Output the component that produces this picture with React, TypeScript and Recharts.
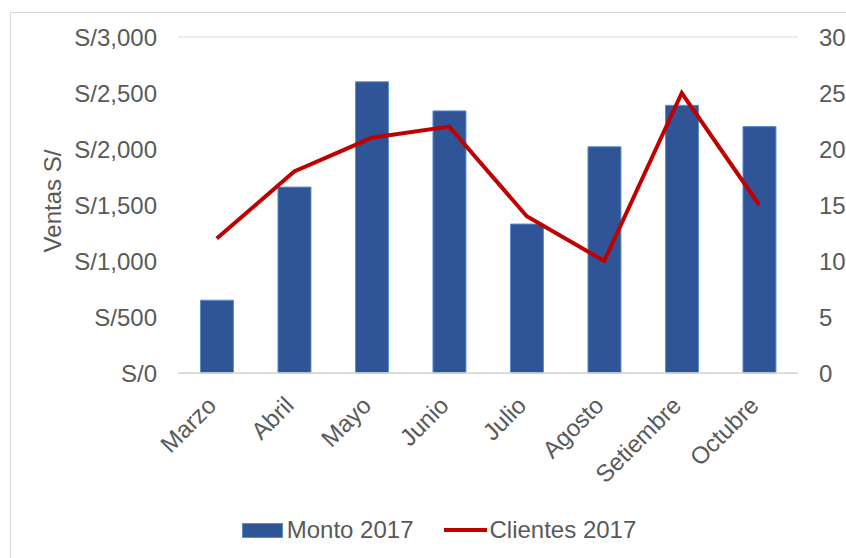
import {
  ComposedChart,
  Bar,
  Line,
  XAxis,
  YAxis,
  CartesianGrid,
  Legend,
  Label,
} from 'recharts'

const months = ['Marzo', 'Abril', 'Mayo', 'Junio', 'Julio', 'Agosto', 'Setiembre', 'Octubre']
const monto2017 = [650, 1660, 2600, 2340, 1330, 2020, 2390, 2200]
const clientes2017 = [12, 18, 21, 22, 14, 10, 25, 15]
const leftTicks = [0, 500, 1000, 1500, 2000, 2500, 3000]
const rightTicks = [0, 5, 10, 15, 20, 25, 30]

const data = months.map((m, i) => ({
  month: m,
  monto: monto2017[i],
  clientes: clientes2017[i],
}))

const FONT = '"Liberation Sans", Arial, sans-serif'
const TEXT = '#595959'
const BLUE = '#2f5597'
const RED = '#c00000'

const fmtSoles = (v: number) => `S/${v.toLocaleString('en-US')}`

function MonthTick(props: any) {
  const { x, y, payload } = props
  return (
    <g transform={`translate(${x},${y})`}>
      <text
        x={0}
        y={0}
        textAnchor="end"
        transform="translate(1,34) rotate(-45)"
        fill={TEXT}
        fontSize={24}
        fontFamily={FONT}
      >
        {payload.value}
      </text>
    </g>
  )
}

function ChartLegend() {
  return (
    <div
      style={{
        display: 'flex',
        justifyContent: 'center',
        alignItems: 'center',
        fontFamily: FONT,
        fontSize: 24,
        color: TEXT,
        paddingLeft: 32,
      }}
    >
      <span style={{ display: 'flex', alignItems: 'center', marginRight: 30 }}>
        <span
          style={{
            width: 39,
            height: 13,
            background: BLUE,
            border: '1px solid #5b8fd4',
            marginRight: 4,
          }}
        />
        Monto 2017
      </span>
      <span style={{ display: 'flex', alignItems: 'center' }}>
        <span style={{ width: 43, height: 4, background: RED, marginRight: 3 }} />
        Clientes 2017
      </span>
    </div>
  )
}

export default function App() {
  return (
    <div
      style={{
        position: 'absolute',
        top: 0,
        left: 0,
        width: 846,
        height: 558,
        overflow: 'hidden',
        background: '#fff',
      }}
    >
      <div
        style={{
          position: 'absolute',
          left: 10,
          top: 12,
          width: 900,
          height: 600,
          borderTop: '1.5px solid #d9d9d9',
          borderLeft: '1.5px solid #d9d9d9',
        }}
      />
      <ComposedChart
        width={846}
        height={558}
        data={data}
        margin={{ top: 37, right: 0, left: 0, bottom: 0 }}
        barCategoryGap="29%"
        style={{ position: 'absolute', top: 0, left: 0 }}
      >
        <CartesianGrid vertical={false} stroke="#d9d9d9" strokeWidth={1.2} />
        <XAxis
          dataKey="month"
          height={185}
          interval={0}
          tickLine={false}
          tickSize={0}
          tickMargin={0}
          axisLine={{ stroke: '#d9d9d9', strokeWidth: 1.5 }}
          tick={<MonthTick />}
        />
        <YAxis
          yAxisId="left"
          width={178}
          domain={[0, 3000]}
          ticks={leftTicks}
          tickFormatter={fmtSoles}
          axisLine={false}
          tickLine={false}
          tickSize={0}
          tickMargin={21}
          tick={{ fill: TEXT, fontSize: 24, fontFamily: FONT }}
        >
          <Label
            content={() => (
              <text
                x={61}
                y={201}
                transform="rotate(-90, 61, 201)"
                textAnchor="middle"
                fill={TEXT}
                fontSize={24}
                fontFamily={FONT}
              >
                Ventas S/
              </text>
            )}
          />
        </YAxis>
        <YAxis
          yAxisId="right"
          orientation="right"
          width={48}
          domain={[0, 30]}
          ticks={rightTicks}
          axisLine={false}
          tickLine={false}
          tickSize={0}
          tickMargin={21}
          tick={{ fill: TEXT, fontSize: 24, fontFamily: FONT, textAnchor: 'start' }}
        />
        <Legend
          verticalAlign="middle"
          align="center"
          layout="horizontal"
          wrapperStyle={{ top: 516, left: 0, width: 846 }}
          content={<ChartLegend />}
        />
        <Bar
          yAxisId="left"
          dataKey="monto"
          name="Monto 2017"
          fill={BLUE}
          stroke="#5b8fd4"
          strokeWidth={1}
          isAnimationActive={false}
        />
        <Line
          yAxisId="right"
          dataKey="clientes"
          name="Clientes 2017"
          type="linear"
          stroke={RED}
          strokeWidth={4}
          dot={false}
          activeDot={false}
          isAnimationActive={false}
        />
      </ComposedChart>
    </div>
  )
}
